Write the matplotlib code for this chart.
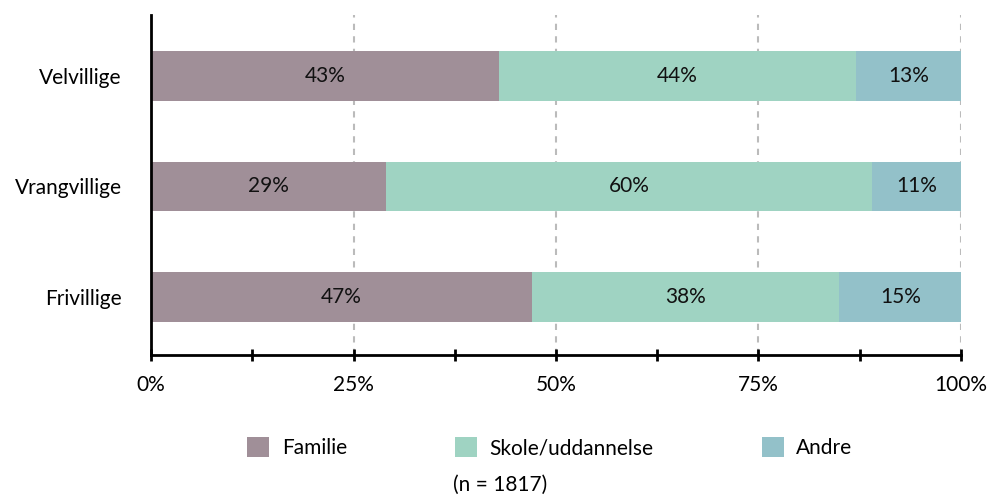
import matplotlib.pyplot as plt
from matplotlib.patches import Patch
from matplotlib.ticker import MultipleLocator

plt.rcParams['font.family'] = ['Lato', 'DejaVu Sans']

groups = ['Velvillige', 'Vrangvillige', 'Frivillige']
familie = [43, 29, 47]
skole = [44, 60, 38]
andre = [13, 11, 15]
series_names = ['Familie', 'Skole/uddannelse', 'Andre']
colors = ['#a08f98', '#9fd3c2', '#93c1c9']

fs = 15

fig = plt.figure(figsize=(9.91, 4.98), dpi=100)
ax = fig.add_axes([0.1524, 0.2871, 0.8173, 0.6829])

ypos = [2, 1, 0]
left = [0, 0, 0]
for vals, col in zip([familie, skole, andre], colors):
    ax.barh(ypos, vals, left=left, height=0.45, color=col, zorder=2)
    for y, l, v in zip(ypos, left, vals):
        ax.text(l + v / 2, y, f'{v}%', ha='center', va='center',
                fontsize=fs, color='#111111', zorder=3)
    left = [l + v for l, v in zip(left, vals)]

ax.set_xlim(0, 100)
ax.set_ylim(-0.525, 2.552)
ax.set_yticks(ypos)
ax.set_yticklabels(groups, fontsize=fs)
ax.tick_params(axis='y', length=0, pad=21)

ax.xaxis.set_major_locator(MultipleLocator(25))
ax.xaxis.set_minor_locator(MultipleLocator(12.5))
ax.set_xticklabels([f'{int(t)}%' for t in ax.get_xticks()], fontsize=fs)
ax.tick_params(axis='x', which='both', direction='inout', length=9, width=2, pad=10)
ax.set_xlim(0, 100)

for x in [25, 50, 75, 100]:
    ax.axvline(x, color='#bbbbbb', linestyle=(0, (3, 3)), linewidth=1.5, zorder=1)

for s in ['top', 'right']:
    ax.spines[s].set_visible(False)
ax.spines['left'].set_linewidth(2)
ax.spines['bottom'].set_linewidth(2)

handles = [Patch(facecolor=c, edgecolor='none') for c in colors]
fig.legend(handles, series_names, loc='center', bbox_to_anchor=(0.555, 0.101),
           ncol=3, frameon=False, fontsize=fs, handlelength=1.05, handleheight=1.05,
           handletextpad=0.6, columnspacing=5.2)

fig.text(0.505, 0.006, '(n = 1817)', ha='center', va='bottom', fontsize=fs)

fig.savefig('out.png', dpi=100)
